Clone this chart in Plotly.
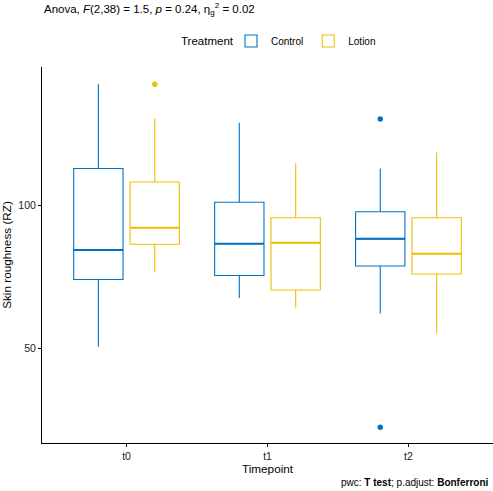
import plotly.graph_objects as go

# ---------------- data ----------------
timepoints = ["t0", "t1", "t2"]
treatments = ["Control", "Lotion"]

control_lower = [50.5, 67.5, 62.1]
control_q1 = [74.0, 75.4, 78.7]
control_median = [84.3, 86.5, 88.2]
control_q3 = [112.8, 101.0, 97.7]
control_upper = [142.3, 128.8, 112.8]
control_outliers = [[], [], [130.1, 22.3]]

lotion_lower = [76.5, 64.2, 55.1]
lotion_q1 = [86.3, 70.3, 75.9]
lotion_median = [92.1, 86.8, 83.0]
lotion_q3 = [108.1, 95.6, 95.6]
lotion_upper = [130.3, 114.6, 118.4]
lotion_outliers = [[142.3], [], []]

# ---------------- style ----------------
colors = {"Control": "#0073C2", "Lotion": "#EFC000"}
dodge = {"Control": -0.2, "Lotion": 0.2}
box_w = 0.35
FONT = "Liberation Sans, Arial, sans-serif"

stats = {
    "Control": (control_lower, control_q1, control_median, control_q3, control_upper, control_outliers),
    "Lotion": (lotion_lower, lotion_q1, lotion_median, lotion_q3, lotion_upper, lotion_outliers),
}

fig = go.Figure()
for t in treatments:
    lo, q1, med, q3, up, outl = stats[t]
    xs = [i + dodge[t] for i in range(len(timepoints))]
    fig.add_trace(go.Box(
        x=xs, lowerfence=lo, q1=q1, median=med, q3=q3, upperfence=up,
        width=box_w, name=t, legendgroup=t, whiskerwidth=0,
        line=dict(color=colors[t], width=1.1),
        fillcolor="rgba(255,255,255,0)",
        boxpoints=False, hoverinfo="skip",
    ))
    # thicker median lines
    mx, my = [], []
    for x, m in zip(xs, med):
        mx += [x - box_w / 2, x + box_w / 2, None]
        my += [m, m, None]
    fig.add_trace(go.Scatter(x=mx, y=my, mode="lines", showlegend=False,
                             legendgroup=t, hoverinfo="skip",
                             line=dict(color=colors[t], width=2)))
    # outliers
    ox, oy = [], []
    for x, vals in zip(xs, outl):
        for v in vals:
            ox.append(x)
            oy.append(v)
    fig.add_trace(go.Scatter(x=ox, y=oy, mode="markers", showlegend=False,
                             legendgroup=t, hoverinfo="skip",
                             marker=dict(color=colors[t], size=5.5)))

W, H = 493, 491
L, R, T, B = 42, 0, 67, 48
pw = W - L - R
ph = H - T - B
leg_y = 1 + 26 / ph

fig.update_layout(
    width=W, height=H,
    margin=dict(l=L, r=R, t=T, b=B, autoexpand=False),
    paper_bgcolor="white", plot_bgcolor="white",
    font=dict(family=FONT, color="#000000", size=12),
    showlegend=True,
    legend=dict(
        orientation="h", x=(231 - L) / pw, xanchor="left",
        y=leg_y, yanchor="middle",
        font=dict(size=10, color="#000"),
        tracegroupgap=0, itemwidth=30,
    ),
    xaxis=dict(
        range=[-0.6, 2.6], tickmode="array", automargin=False,
        tickvals=list(range(len(timepoints))), ticktext=timepoints,
        showgrid=False, zeroline=False,
        showline=True, linecolor="#000", linewidth=1,
        ticks="outside", ticklen=3, tickcolor="#000", tickwidth=1,
        tickfont=dict(size=10.5, color="#222"),
        title=dict(text="Timepoint", font=dict(size=11.75, color="#000"), standoff=2),
    ),
    yaxis=dict(
        range=[16.8, 148.3], tickvals=[50, 100], automargin=False,
        showgrid=False, zeroline=False,
        showline=True, linecolor="#000", linewidth=1,
        ticks="outside", ticklen=3, tickcolor="#000", tickwidth=1,
        tickfont=dict(size=10.5, color="#222"),
        title=dict(text="Skin roughness (RZ)", font=dict(size=11.75, color="#000"), standoff=4),
    ),
    annotations=[
        dict(text="Anova, <i>F</i>(2,38) = 1.5, <i>p</i> = 0.24, η<sub>g</sub><sup>2</sup> = 0.02",
             xref="paper", yref="paper", x=0, y=1 + 58 / ph,
             xanchor="left", yanchor="middle", showarrow=False,
             font=dict(size=11.5, color="#000")),
        dict(text="Treatment",
             xref="paper", yref="paper", x=(236 - L) / pw, y=leg_y,
             xanchor="right", yanchor="middle", showarrow=False,
             font=dict(size=11.5, color="#000")),
        dict(text="pwc: <b>T test</b>; p.adjust: <b>Bonferroni</b>",
             xref="paper", yref="paper", x=1, y=-(482 - (H - B)) / ph,
             xanchor="right", yanchor="middle", showarrow=False, xshift=-3,
             font=dict(size=10, color="#000")),
    ],
)

fig.write_html("out.html", config={"displayModeBar": False},
               post_script="document.body.style.margin='0';")
